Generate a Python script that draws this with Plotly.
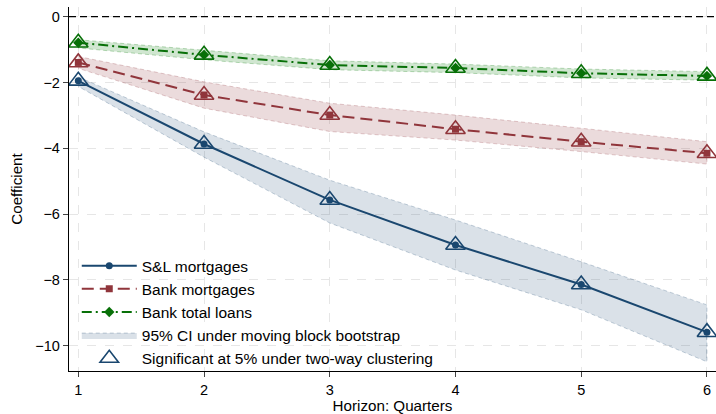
import plotly.graph_objects as go

# Horizons (quarters)
horizon = [1, 2, 3, 4, 5, 6]

# Point estimates
sl_coef = [-1.95, -3.87, -5.57, -6.94, -8.14, -9.59]
bm_coef = [-1.39, -2.38, -2.99, -3.42, -3.80, -4.15]
bt_coef = [-0.79, -1.16, -1.47, -1.56, -1.72, -1.80]

# 95% CI bounds under moving block bootstrap
sl_hi = [-1.83, -3.50, -4.97, -6.18, -7.45, -8.76]
sl_lo = [-2.12, -4.27, -6.27, -7.70, -8.91, -10.49]
bm_hi = [-1.21, -1.98, -2.63, -2.99, -3.39, -3.80]
bm_lo = [-1.57, -2.78, -3.49, -3.75, -4.10, -4.48]
bt_hi = [-0.70, -1.02, -1.34, -1.44, -1.59, -1.67]
bt_lo = [-0.95, -1.31, -1.61, -1.70, -1.86, -1.93]

y_ticks = [0, -2, -4, -6, -8, -10]

NAVY = "#1a476f"
MAROON = "#90353b"
GREEN = "#087008"
FONT = "Liberation Sans, Arial, sans-serif"

fig = go.Figure()


def band(lo, hi, fill, edge, name, show):
    fig.add_trace(go.Scatter(
        x=horizon + horizon[::-1], y=hi + lo[::-1],
        fill="toself", fillcolor=fill, mode="lines",
        line=dict(color=edge, width=1, dash="4px,3px"),
        name=name, showlegend=show, legendrank=4, hoverinfo="skip"))


band(sl_lo, sl_hi, "rgba(26,71,111,0.16)", "rgba(26,71,111,0.25)",
     "95% CI under moving block bootstrap", True)
band(bm_lo, bm_hi, "rgba(144,53,59,0.18)", "rgba(144,53,59,0.25)", "bm_ci", False)
band(bt_lo, bt_hi, "rgba(20,130,20,0.20)", "rgba(20,130,20,0.28)", "bt_ci", False)

# zero reference line
fig.add_shape(type="line", xref="paper", x0=0, x1=1, yref="y", y0=0, y1=0,
              line=dict(color="black", width=1.2, dash="7px,4px"), layer="above")

fig.add_trace(go.Scatter(
    x=horizon, y=sl_coef, mode="lines+markers", name="S&L mortgages",
    line=dict(color=NAVY, width=2), marker=dict(symbol="circle", size=7, color=NAVY),
    legendrank=1))
fig.add_trace(go.Scatter(
    x=horizon, y=bm_coef, mode="lines+markers", name="Bank mortgages",
    line=dict(color=MAROON, width=2, dash="12px,6px"),
    marker=dict(symbol="square", size=7, color=MAROON), legendrank=2))
fig.add_trace(go.Scatter(
    x=horizon, y=bt_coef, mode="lines+markers", name="Bank total loans",
    line=dict(color=GREEN, width=2, dash="10px,4px,2px,4px"),
    marker=dict(symbol="diamond", size=8, color=GREEN), legendrank=3))

# significance markers (hollow triangles)
for coef, col, show in [(sl_coef, NAVY, True), (bm_coef, MAROON, False), (bt_coef, GREEN, False)]:
    fig.add_trace(go.Scatter(
        x=horizon, y=coef, mode="markers",
        name="Significant at 5% under two-way clustering",
        marker=dict(symbol="triangle-up-open", size=17, color=col, line=dict(width=1.6)),
        showlegend=show, legendrank=5))

fig.update_layout(
    width=716, height=414,
    margin=dict(l=69, r=0, t=7, b=43),
    paper_bgcolor="white", plot_bgcolor="white",
    font=dict(family=FONT, size=14, color="black"),
    showlegend=True,
    legend=dict(x=0.012, y=0.335, xanchor="left", yanchor="top",
                bgcolor="rgba(0,0,0,0)", itemwidth=55,
                font=dict(size=15.5), tracegroupgap=0),
)
fig.update_xaxes(
    range=[0.926, 6.072], tickvals=horizon, ticks="outside", ticklen=5,
    showline=True, linecolor="black", linewidth=1.3,
    showgrid=True, gridcolor="#e6e6e6", griddash="dash", gridwidth=1,
    zeroline=False, title=dict(text="Horizon: Quarters", font=dict(size=15.2), standoff=7),
    tickfont=dict(size=14.5))
fig.update_yaxes(
    range=[-10.77, 0.295], tickvals=y_ticks, ticks="outside", ticklen=5,
    showline=True, linecolor="black", linewidth=1.3,
    showgrid=True, gridcolor="#e6e6e6", griddash="dash", gridwidth=1,
    zeroline=False, title=dict(text="Coefficient", font=dict(size=15.2), standoff=9),
    tickfont=dict(size=14.5))

fig.write_html("out.html")
